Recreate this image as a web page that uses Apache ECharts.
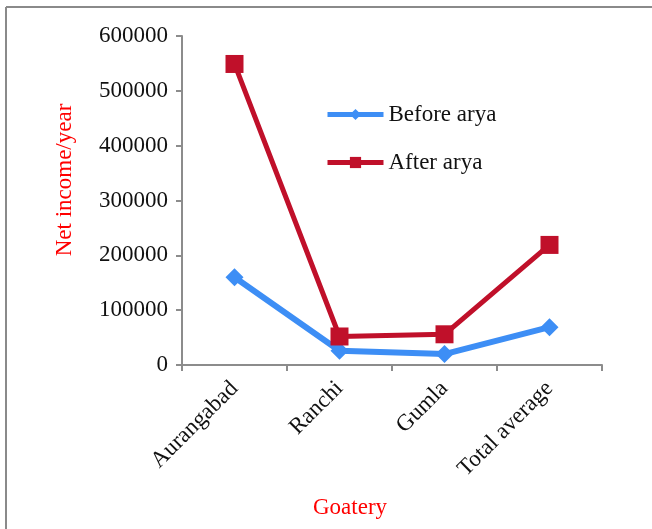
<!DOCTYPE html>
<html>
<head>
<meta charset="utf-8">
<script src="https://cdn.jsdelivr.net/npm/echarts@6/dist/echarts.min.js"></script>
<style>
  html, body { margin: 0; padding: 0; background: #fff; }
  #chart { width: 652px; height: 529px; }
</style>
</head>
<body>
<div id="chart"></div>
<script>
// Goatery net income per year, before and after ARYA
const categories = ['Aurangabad', 'Ranchi', 'Gumla', 'Total average'];
const beforeArya = [160000, 26000, 20000, 69000];
const afterArya = [549000, 52000, 56000, 219000];
const yTicks = { min: 0, max: 600000, interval: 100000 };
const yTitle = 'Net income/year';
const xTitle = 'Goatery';

const serif = '"Liberation Serif", "DejaVu Serif", serif';
const axisGray = '#8c8c8c';
const titleRed = '#ff0000';

const chart = echarts.init(document.getElementById('chart'));
chart.setOption({
  backgroundColor: '#ffffff',
  animation: false,
  graphic: [
    // frame lines along the top and left edge
    { type: 'line', shape: { x1: 6, y1: 7, x2: 652, y2: 7 }, style: { stroke: '#8a8a8a', lineWidth: 2 } },
    { type: 'line', shape: { x1: 6, y1: 7, x2: 6, y2: 529 }, style: { stroke: '#8a8a8a', lineWidth: 2 } },
    // axis titles
    {
      type: 'text', x: 65, y: 180, rotation: Math.PI / 2,
      style: { text: yTitle, font: '23px ' + serif, fill: titleRed, align: 'center', verticalAlign: 'middle' }
    },
    {
      type: 'text', x: 350, y: 508,
      style: { text: xTitle, font: '23px ' + serif, fill: titleRed, align: 'center', verticalAlign: 'middle' }
    }
  ],
  grid: { left: 182, right: 50, top: 36, bottom: 164 },
  legend: {
    orient: 'vertical',
    left: 320,
    top: 98,
    itemWidth: 56,
    itemHeight: 14,
    itemGap: 25,
    lineStyle: { width: 5 },
    textStyle: { fontFamily: serif, fontSize: 23, color: '#111' },
    data: ['Before arya', 'After arya']
  },
  xAxis: {
    type: 'category',
    data: categories,
    boundaryGap: true,
    axisLine: { lineStyle: { color: axisGray, width: 2 } },
    axisTick: { show: true, length: 6, lineStyle: { color: axisGray, width: 2 } },
    axisLabel: { rotate: 45, fontFamily: serif, fontSize: 23, color: '#111', margin: 20 }
  },
  yAxis: {
    type: 'value',
    min: yTicks.min,
    max: yTicks.max,
    interval: yTicks.interval,
    axisLine: { show: true, lineStyle: { color: axisGray, width: 2 } },
    axisTick: { show: true, length: 6, lineStyle: { color: axisGray, width: 2 } },
    splitLine: { show: false },
    axisLabel: { fontFamily: serif, fontSize: 23, color: '#111', margin: 14, formatter: v => String(v) }
  },
  series: [
    {
      name: 'Before arya',
      type: 'line',
      data: beforeArya,
      symbol: 'diamond',
      symbolSize: 18,
      itemStyle: { color: '#3d8ef5' },
      lineStyle: { color: '#3d8ef5', width: 6 },
      z: 2
    },
    {
      name: 'After arya',
      type: 'line',
      data: afterArya,
      symbol: 'rect',
      symbolSize: 18,
      itemStyle: { color: '#c0102a' },
      lineStyle: { color: '#c0102a', width: 5 },
      z: 3
    }
  ]
});
</script>
</body>
</html>
